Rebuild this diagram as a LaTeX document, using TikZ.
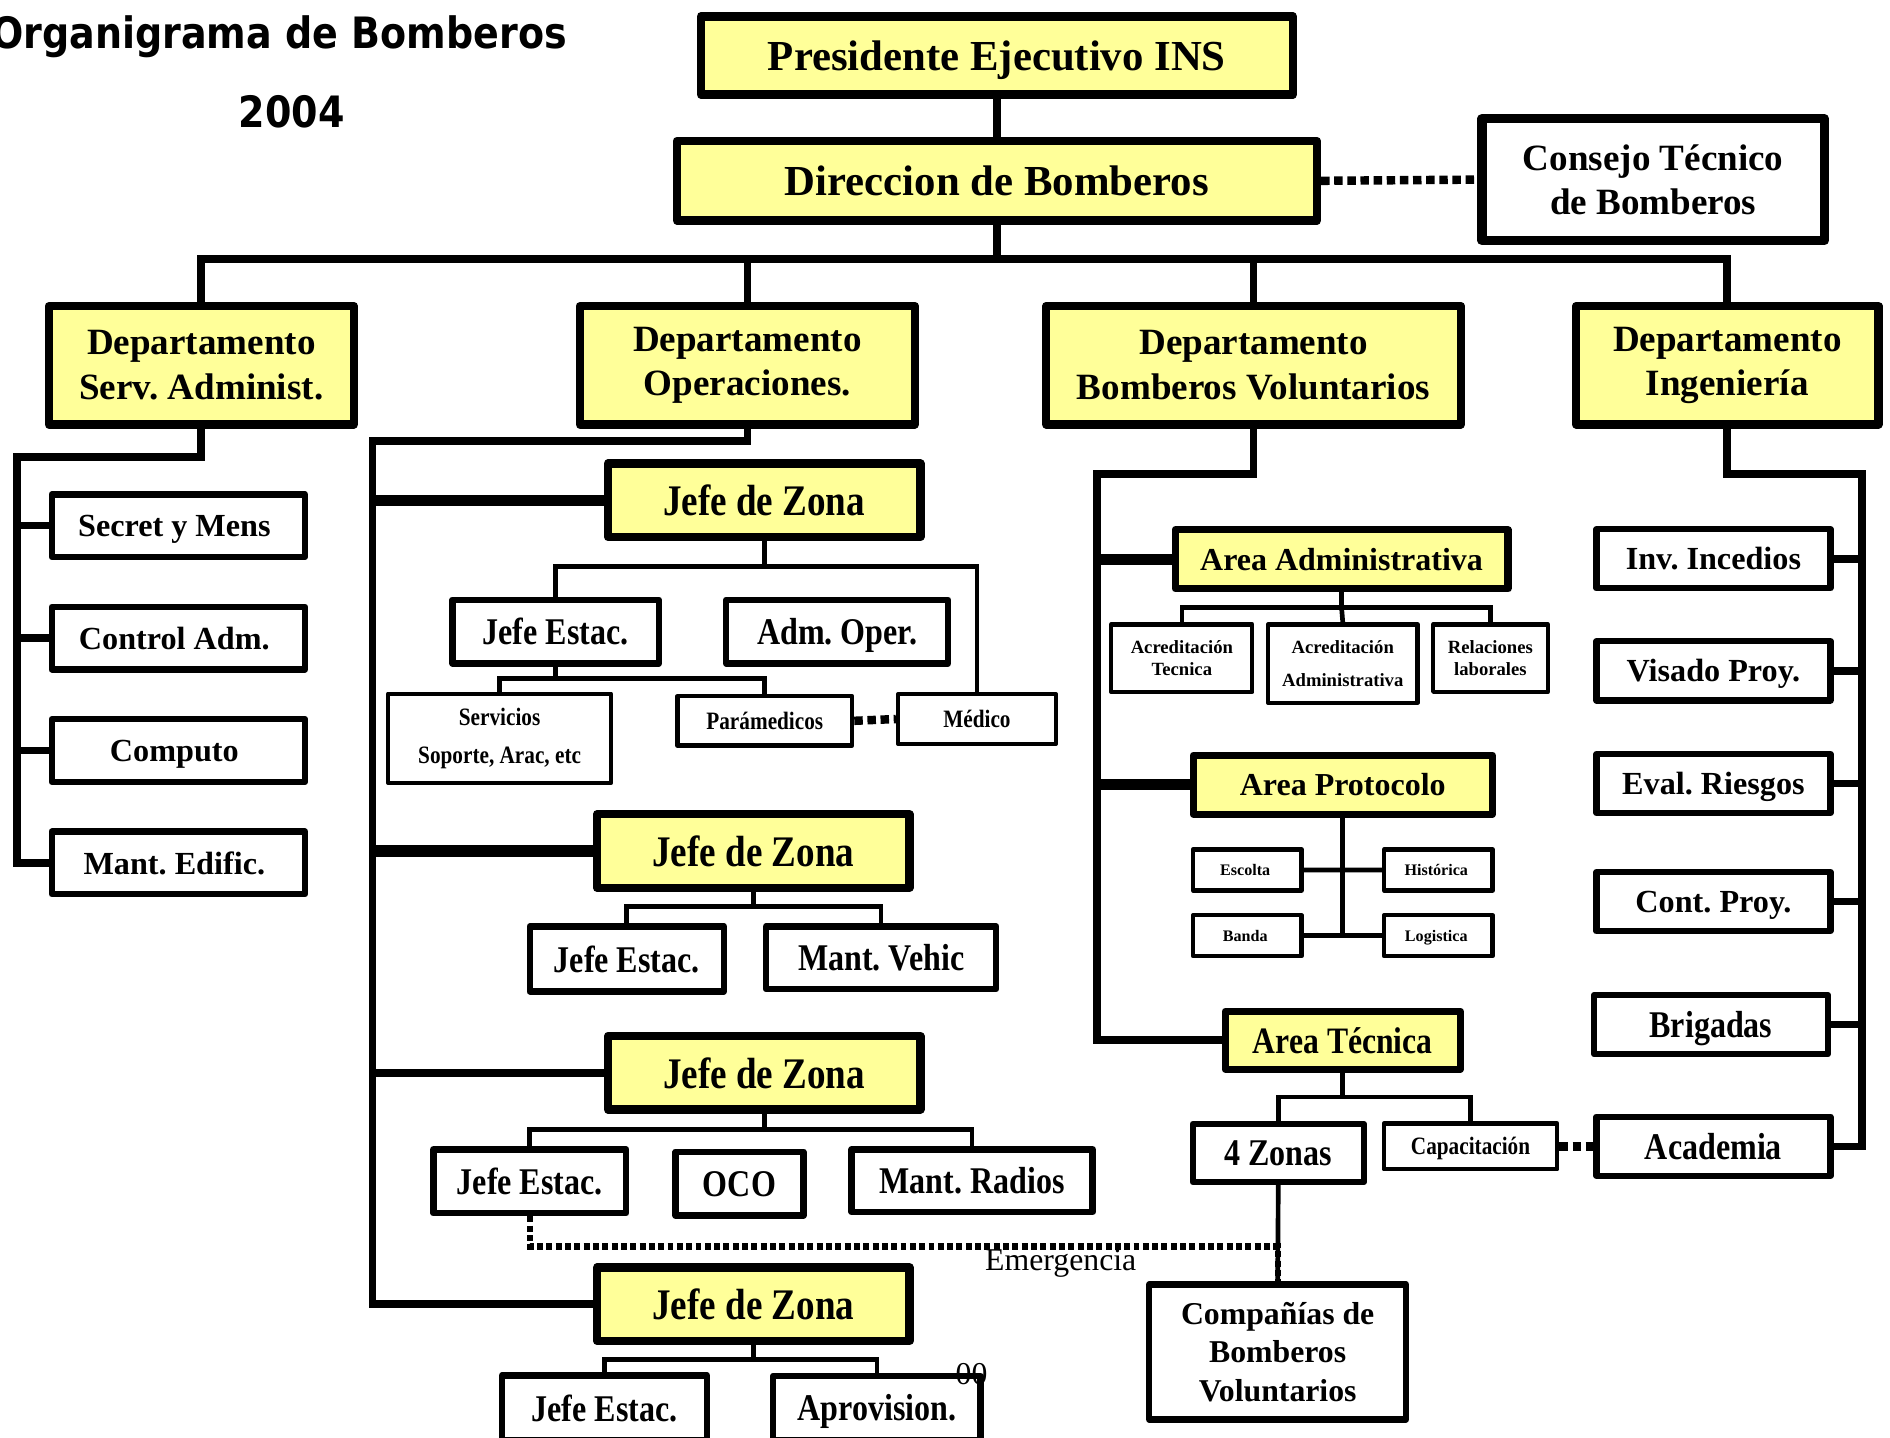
\documentclass[tikz,border=0pt]{standalone}
\usepackage{fontspec}
\setmainfont{Liberation Serif}
\newfontfamily\estrecha[FakeStretch=0.85]{Liberation Serif}
\newfontfamily\rotulo[FakeStretch=0.88]{DejaVu Sans}
\usepackage{xcolor}
\usepackage{tikz}
\usetikzlibrary{matrix, positioning}
\definecolor{amarillo}{HTML}{FFFF99}
\frenchspacing

\begin{document}
\begin{tikzpicture}
[x=0.1mm, y=-0.1mm,
tam/.style 2 args={minimum width=#1, minimum height=#2},
jefe/.style={rectangle, draw=black, fill=amarillo, line width=2pt, line join=round, inner sep=0pt, align=center, font=\bfseries\fontsize{8.75}{10.5}\selectfont},
zona/.style={jefe, text depth=0pt, tam={25.9mm}{6.1mm}, font=\estrecha\bfseries\fontsize{10.3}{12}\selectfont},
area/.style={jefe, text depth=0pt, line width=1.7pt, font=\bfseries\fontsize{7.55}{9}\selectfont},
caja/.style={rectangle, draw=black, fill=white, line width=1.5pt, line join=round, inner sep=0pt, align=center, font=\bfseries\fontsize{7.6}{9}\selectfont},
ops/.style={caja, text depth=0pt, font=\estrecha\bfseries\fontsize{8.9}{10}\selectfont},
cajita/.style={rectangle, draw=black, fill=white, line width=1pt, line join=round, inner sep=0pt, align=center, font=\bfseries\fontsize{5}{9.1}\selectfont},
opsmini/.style={cajita, font=\estrecha\bfseries\fontsize{5.9}{9.1}\selectfont},
mini/.style={cajita, font=\bfseries\fontsize{4.4}{5.4}\selectfont},
linea/.style={line width=1.8pt},
fina/.style={line width=1.1pt},
rama/.style={line width=2.6pt},
punteado/.style={line width=2pt, dash pattern=on 2pt off 1.1pt},
emerg/.style={line width=1.5pt, dash pattern=on 1.4pt off 0.8pt}]

\fill[white] (0,0) rectangle (1568,1193);
\useasboundingbox (0,0) rectangle (1568,1193);

\node[font=\rotulo\bfseries\fontsize{10.2}{12}\selectfont, anchor=base east, inner sep=0pt] (titulo) at (471,40) {Organigrama de Bomberos};
\node[font=\rotulo\bfseries\fontsize{10.2}{12}\selectfont, anchor=base, inner sep=0pt] (anio) at (242,106) {2004};

\node[jefe, text depth=0pt, tam={49.1mm}{6.5mm}, font=\bfseries\fontsize{10.1}{12}\selectfont] (presidente) at (827,46) {Presidente Ejecutivo INS};
\node[jefe, text depth=0pt, tam={53.1mm}{6.6mm}, font=\bfseries\fontsize{10.1}{12}\selectfont] (direccion) at (827,150) {Direccion de Bomberos};
\node[caja, line width=2.2pt, tam={28.4mm}{10.1mm}, font=\bfseries\fontsize{8.75}{10.5}\selectfont] (consejo) at (1371.5,149) {Consejo Técnico\\de Bomberos};
\draw[line width=0.6pt] ([xshift=1.8pt,yshift=-1.8pt]consejo.north west) rectangle ([xshift=-1.8pt,yshift=1.8pt]consejo.south east);

\node[jefe, tam={25.3mm}{9.8mm}] (dadmin) at (167,303) {Departamento\\Serv. Administ.};
\node[jefe, tam={27.8mm}{9.8mm}] (doper) at (620,303) {Departamento\\Operaciones.};
\node[jefe, tam={34.4mm}{9.8mm}] (dvolunt) at (1040,303) {Departamento\\Bomberos Voluntarios};
\node[jefe, tam={25.1mm}{9.8mm}] (dingen) at (1433,303) {Departamento\\Ingeniería};

\coordinate (bus) at (827,215);
\draw[linea] (presidente) -- (direccion);
\draw[linea] (direccion.south) -- (bus);
\draw[linea] (dadmin.north) |- (bus) -| (dingen.north);
\draw[linea] (doper.north) -- (doper.north |- bus);
\draw[linea] (dvolunt.north) -- (dvolunt.north |- bus);
\draw[punteado] (direccion.east) -- (consejo.west);

\matrix (admin) [matrix of nodes, row sep=3.6mm, nodes={caja, text depth=0pt, tam={21mm}{5.2mm}}] at (148,576)
{
Secret y Mens \\
Control Adm. \\
Computo \\
Mant. Edific. \\
};
\coordinate (aspine) at (14,379);
\draw[linea] (dadmin.south) |- (aspine) -- (aspine |- admin-4-1.west) -- (admin-4-1.west);
\foreach \i in {1,2,3}
  \draw[linea] (aspine |- admin-\i-1.west) -- (admin-\i-1.west);

\node[zona] (zona1) at (634,415) {Jefe de Zona};
\node[zona] (zona2) at (625,706) {Jefe de Zona};
\node[zona] (zona3) at (634,890) {Jefe de Zona};
\node[zona] (zona4) at (625,1082) {Jefe de Zona};

\node[ops, tam={17.1mm}{5.3mm}] (estac1) at (461,524) {Jefe Estac.};
\node[ops, tam={18.4mm}{5.3mm}] (admoper) at (694.5,524) {Adm. Oper.};
\node[opsmini, tam={18.5mm}{7.4mm}] (servicios) at (414.5,612.5) {Servicios\\Soporte, Arac, etc};
\node[opsmini, text depth=0pt, tam={14.5mm}{4.1mm}] (paramed) at (634.5,598) {Parámedicos};
\node[opsmini, text depth=0pt, tam={13.1mm}{4.1mm}] (medico) at (810.5,596.5) {Médico};
\node[ops, tam={16.1mm}{5.4mm}] (estac2) at (520,795.5) {Jefe Estac.};
\node[ops, tam={19.1mm}{5.2mm}] (vehic) at (731,794.5) {Mant. Vehic};
\node[ops, tam={16mm}{5.3mm}] (estac3) at (439.5,980) {Jefe Estac.};
\node[ops, tam={10.6mm}{5.3mm}] (oco) at (613.5,982) {OCO};
\node[ops, tam={20mm}{5.2mm}] (radios) at (806.5,979.5) {Mant. Radios};
\node[ops, tam={17mm}{5.4mm}] (estac4) at (501.5,1168) {Jefe Estac.};
\node[ops, tam={17.2mm}{5.3mm}] (aprov) at (727.5,1168) {Aprovision.};

\coordinate (ospine) at (309,366);
\draw[linea] (doper.south) |- (ospine) -- (ospine |- zona4.west) -- (zona4.west);
\draw[rama] (ospine |- zona1.west) -- (zona1.west);
\draw[rama] (ospine |- zona2.west) -- (zona2.west);
\draw[linea] (ospine |- zona3.west) -- (zona3.west);

\coordinate (z1) at (634,470);
\draw[fina] (zona1.south) -- (z1) -| (estac1.north);
\draw[fina] (z1) -| (medico.north);
\coordinate (e1) at (461,563);
\draw[fina] (estac1.south) -- (e1) -| (servicios.north);
\draw[fina] (e1) -| (paramed.north);
\draw[punteado] (paramed.east) -- (medico.west);
\coordinate (z2) at (625,752);
\draw[fina] (zona2.south) -- (z2) -| (estac2.north);
\draw[fina] (z2) -| (vehic.north);
\coordinate (z3) at (634,937);
\draw[fina] (zona3.south) -- (z3) -| (estac3.north);
\draw[fina] (z3) -| (radios.north);
\coordinate (z4) at (625,1128);
\draw[fina] (zona4.south) -- (z4) -| (estac4.north);
\draw[fina] (z4) -| (aprov.north);
\node[font=\fontsize{7.5}{9}\selectfont, inner sep=0pt] (cero) at (806,1140) {00};

\node[area, tam={27.6mm}{4.9mm}] (areaadm) at (1113,464) {Area Administrativa};
\node[area, tam={24.8mm}{4.9mm}] (areaprot) at (1114,651) {Area Protocolo};
\node[area, tam={19.5mm}{4.8mm}, font=\estrecha\bfseries\fontsize{8.8}{10}\selectfont] (areatec) at (1114,863) {Area Técnica};

\node[mini, tam={11.7mm}{5.6mm}] (acredtec) at (980.5,546) {Acreditación\\Tecnica};
\node[mini, tam={12.4mm}{6.5mm}, font=\bfseries\fontsize{4.4}{8}\selectfont] (acredadm) at (1114,550.5) {Acreditación\\Administrativa};
\node[mini, tam={9.5mm}{5.6mm}] (relac) at (1236.5,546) {Relaciones\\laborales};

\matrix (prot) [matrix of nodes, ampersand replacement=\&, column sep=6.5mm, row sep=1.7mm,
nodes={cajita, text depth=0pt, tam={9mm}{3.4mm}, font=\bfseries\fontsize{3.8}{5}\selectfont}] at (1114,749)
{
Escolta \& Histórica \\
Banda \& Logistica \\
};

\node[ops, tam={14.2mm}{4.8mm}] (zonas) at (1060.5,956.5) {4 Zonas};
\node[opsmini, text depth=0pt, tam={14.4mm}{3.8mm}] (capac) at (1220,951) {Capacitación};
\node[caja, tam={21.3mm}{11.2mm}, font=\bfseries\fontsize{7.5}{9.1}\selectfont] (companias) at (1060,1121.5) {Compañías de\\Bomberos\\Voluntarios};

\coordinate (vspine) at (910,393);
\draw[linea] (dvolunt.south) |- (vspine) -- (vspine |- areatec.west) -- (areatec.west);
\draw[rama] (vspine |- areaadm.west) -- (areaadm.west);
\draw[rama] (vspine |- areaprot.west) -- (areaprot.west);
\coordinate (aa) at (1113,504);
\draw[fina] (areaadm.south) -- (aa) -| (acredtec.north);
\draw[fina] (aa) -| (relac.north);
\draw[fina] (aa) -- (acredadm.north);
\draw[fina] (areaprot.south) -- (areaprot.south |- prot-2-1.east);
\draw[fina] (prot-1-1.east) -- (prot-1-2.west);
\draw[fina] (prot-2-1.east) -- (prot-2-2.west);
\coordinate (at) at (1114,910);
\draw[fina] (areatec.south) -- (at) -| (zonas.north);
\draw[fina] (at) -| (capac.north);
\draw[fina] (zonas.south) -- (companias.north);

\coordinate (emerg) at (1060,1034);
\draw[emerg] (estac3.south) |- (emerg) -- (companias.north);
\node[font=\fontsize{7.5}{9}\selectfont, inner sep=0pt] (emergtxt) at (880,1048) {Emergencia};

\node[caja, text depth=0pt, tam={19.4mm}{4.9mm}] (incendios) at (1421.5,463.5) {Inv. Incedios};
\node[caja, text depth=0pt, tam={19.4mm}{4.9mm}] (visado) at (1421.5,556.5) {Visado Proy.};
\node[caja, text depth=0pt, tam={19.4mm}{4.9mm}] (riesgos) at (1421.5,650) {Eval. Riesgos};
\node[caja, text depth=0pt, tam={19.4mm}{4.9mm}] (contproy) at (1421.5,748) {Cont. Proy.};
\node[ops, tam={19.4mm}{4.9mm}] (brigadas) at (1419.5,850) {Brigadas};
\node[ops, tam={19.4mm}{4.9mm}] (academia) at (1421.5,951) {Academia};

\coordinate (ispine) at (1545,393);
\draw[linea] (dingen.south) |- (ispine) -- (ispine |- academia.east) -- (academia.east);
\foreach \n in {incendios, visado, riesgos, contproy, brigadas}
  \draw[linea] (ispine |- \n.east) -- (\n.east);
\draw[punteado] (capac.east) -- (academia.west);
\end{tikzpicture}
\end{document}
